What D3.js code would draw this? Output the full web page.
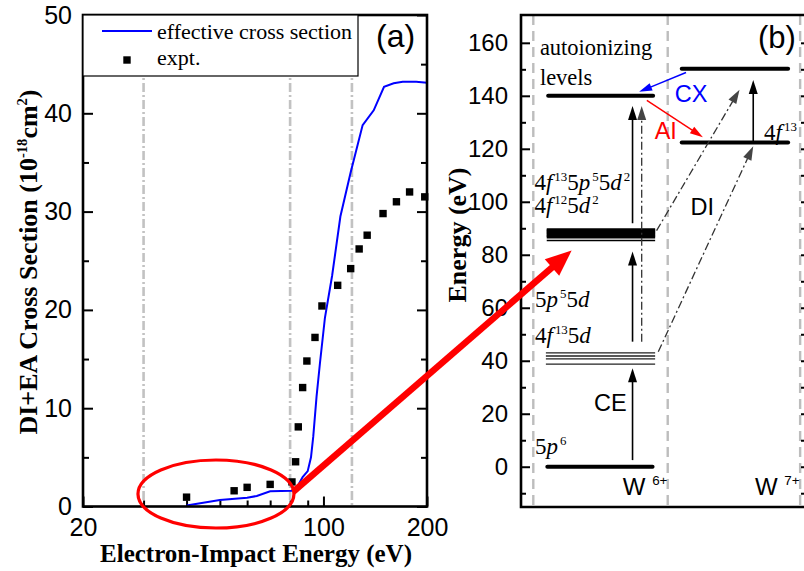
<!DOCTYPE html>
<html>
<head>
<meta charset="utf-8">
<script src="https://cdn.jsdelivr.net/npm/d3@7"></script>
<style>
body { margin: 0; background: #fff; }
svg { display: block; }
</style>
</head>
<body>
<svg id="chart" width="804" height="571"></svg>
<script>
// ---- panel (a): cross sections ----
const theoryEnergy = [40, 50, 60, 64, 70, 81, 83, 87, 90, 92, 93.4, 95.5, 97.7, 101, 106, 112, 120, 130, 140, 150, 160, 170, 186, 200];
const theoryCross  = [0.1, 0.65, 0.9, 1.07, 1.55, 1.6, 1.7, 3.0, 3.6, 5.0, 7.1, 11.2, 14.6, 19.2, 23.5, 29.5, 34.0, 38.8, 40.3, 42.7, 43.05, 43.2, 43.2, 43.1];
const exptEnergy = [40, 55, 60, 70, 81, 83, 84.5, 87, 89.5, 94.5, 99, 110, 120, 127, 134, 149, 163, 178, 197];
const exptCross  = [0.95, 1.6, 1.95, 2.25, 2.5, 4.55, 8.1, 12.1, 14.8, 17.2, 20.4, 22.5, 24.2, 26.2, 27.6, 29.8, 31.0, 32.0, 31.5];
const guideEnergy = [30, 80, 121];
const xTicksA = [20, 100, 200];
const xMinorA = [30, 40, 50, 60, 70, 80, 90];
const yTicksA = [0, 10, 20, 30, 40, 50];
const yMinorA = [5, 15, 25, 35, 45];

// ---- panel (b): level scheme (energies in eV) ----
const groundLevels = [0];
const ceLevels = [38.7, 40.7, 41.8, 43.0];
const bandLevels = [85.4, 86.6, 87.1, 87.6, 88.1, 88.6, 89.1, 89.5];
const autoLevels = [140];
const w7Levels = [122.4, 150.2];
const arrowFromE = [2.5, 47.2, 91.9, 47.2, 89.1, 43.4, 122.4, 148.8, 138.3];
const arrowToE   = [37.2, 81.2, 136.2, 136.2, 142.3, 121.0, 146.0, 141.5, 124.4];
const arrowKinds = ['solid', 'solid', 'solid', 'dashdot', 'dashdot', 'dashdot', 'solid', 'cx', 'ai'];
const yTicksB = [0, 20, 40, 60, 80, 100, 120, 140, 160];
const yMinorB = [-10, 10, 30, 50, 70, 90, 110, 130, 150];

const svg = d3.select('#chart');
const SANS = '"Liberation Sans", Arial, sans-serif';
const SERIF = '"Liberation Serif", "Times New Roman", serif';

// text with italic / superscript pieces
function richText(parent, x, y, parts, size, family, weight) {
    const t = parent.append('text')
        .attr('x', x).attr('y', y)
        .style('font-family', family)
        .style('font-size', size + 'px')
        .style('font-weight', weight || 'normal');
    let shift = 0;
    let prevItalic = false;
    parts.forEach(p => {
        const target = p.sup ? -size * 0.4 : 0;
        const s = t.append('tspan').attr('dy', target - shift).text(p.t);
        shift = target;
        if (p.sup) s.style('font-size', (size * 0.56) + 'px');
        if (p.sup && prevItalic) s.attr('dx', 2);
        if (!p.sup && !p.i && prevItalic) s.attr('dx', 1);
        if (p.i) s.style('font-style', 'italic');
        prevItalic = !!p.i;
    });
    return t;
}

// ================= panel (a) =================
const xA = d3.scaleLog().domain([20, 200]).range([83, 427]);
const yA = d3.scaleLinear().domain([0, 50]).range([506.5, 15]);
const gA = svg.append('g');

// gray guide lines
guideEnergy.forEach(e => {
    gA.append('line')
        .attr('x1', xA(e)).attr('x2', xA(e))
        .attr('y1', yA(50)).attr('y2', yA(0))
        .attr('stroke', '#c2c2c2')
        .attr('stroke-width', 2.6)
        .attr('stroke-dasharray', '9,3,2,3');
});

// axes (ticks inward)
function styleAxis(g) {
    g.select('.domain').remove();
    g.selectAll('.tick line').attr('stroke', '#000').attr('stroke-width', 2);
    g.selectAll('.tick text').style('font-family', SANS).style('font-size', '25px').attr('fill', '#000');
}
gA.append('g').attr('transform', 'translate(83,0)')
    .call(d3.axisLeft(yA).tickValues(yTicksA).tickSize(-10).tickPadding(11).tickFormat(d3.format('d')))
    .call(styleAxis);
gA.append('g').attr('transform', 'translate(83,0)')
    .call(d3.axisLeft(yA).tickValues(yMinorA).tickSize(-6).tickFormat(''))
    .call(styleAxis);
gA.append('g').attr('transform', 'translate(427,0)')
    .call(d3.axisRight(yA).tickValues(yTicksA).tickSize(-10).tickFormat(''))
    .call(styleAxis);
gA.append('g').attr('transform', 'translate(427,0)')
    .call(d3.axisRight(yA).tickValues(yMinorA).tickSize(-6).tickFormat(''))
    .call(styleAxis);
gA.append('g').attr('transform', 'translate(0,506.5)')
    .call(d3.axisBottom(xA).tickValues(xTicksA).tickSize(-10).tickPadding(12).tickFormat(d3.format('d')))
    .call(styleAxis);
gA.append('g').attr('transform', 'translate(0,506.5)')
    .call(d3.axisBottom(xA).tickValues(xMinorA).tickSize(-6).tickFormat(''))
    .call(styleAxis);

// theory curve
const lineA = d3.line()
    .x((d, i) => xA(theoryEnergy[i]))
    .y(d => yA(d));
gA.append('path')
    .datum(theoryCross)
    .attr('d', lineA)
    .attr('fill', 'none')
    .attr('stroke', '#0000ff')
    .attr('stroke-width', 2);

// experiment squares
gA.selectAll('.expt')
    .data(exptCross)
    .enter().append('rect')
    .attr('class', 'expt')
    .attr('x', (d, i) => xA(exptEnergy[i]) - 3.7)
    .attr('y', d => yA(d) - 3.7)
    .attr('width', 7.4).attr('height', 7.4)
    .attr('fill', '#000');

// frame
gA.append('rect')
    .attr('x', 83).attr('y', 15)
    .attr('width', 344).attr('height', 491.5)
    .attr('fill', 'none').attr('stroke', '#000').attr('stroke-width', 2.6);

// legend
const legA = gA.append('g');
legA.append('rect')
    .attr('x', 83).attr('y', 15).attr('width', 275).attr('height', 61)
    .attr('fill', '#fff').attr('stroke', '#000').attr('stroke-width', 1.2);
legA.append('line')
    .attr('x1', 102).attr('x2', 152).attr('y1', 31).attr('y2', 31)
    .attr('stroke', '#0000ff').attr('stroke-width', 2);
legA.append('text').attr('x', 157).attr('y', 39)
    .style('font-family', SERIF).style('font-size', '22px')
    .text('effective cross section');
legA.append('rect').attr('x', 123.3).attr('y', 56.3).attr('width', 7.4).attr('height', 7.4).attr('fill', '#000');
legA.append('text').attr('x', 157).attr('y', 65)
    .style('font-family', SERIF).style('font-size', '22px')
    .text('expt.');

gA.append('text').attr('x', 376).attr('y', 47)
    .style('font-family', SANS).style('font-size', '32px')
    .text('(a)');

// axis titles
svg.append('text')
    .attr('x', 256).attr('y', 562)
    .attr('text-anchor', 'middle')
    .style('font-family', SERIF).style('font-size', '25px').style('font-weight', 'bold')
    .text('Electron-Impact Energy (eV)');
richText(svg.append('g').attr('transform', 'translate(37,262) rotate(-90)'), 0, 0, [
    {t: 'DI+EA Cross Section (10'}, {t: '-18', sup: true}, {t: 'cm'}, {t: '2', sup: true}, {t: ')'}
], 26, SERIF, 'bold').attr('text-anchor', 'middle');

// ================= panel (b) =================
const xB = d3.scaleLinear().domain([0, 10]).range([521, 807]);
const yB = d3.scaleLinear().domain([-15.2, 170.5]).range([507, 15]);
const gB = svg.append('g');

// dashed column separators
[0.43, 5.13, 9.76].forEach(c => {
    gB.append('line')
        .attr('x1', xB(c)).attr('x2', xB(c))
        .attr('y1', yB(170.5)).attr('y2', yB(-15.2))
        .attr('stroke', '#bdbdbd').attr('stroke-width', 2.4)
        .attr('stroke-dasharray', '10,6');
});

function styleAxisB(g) {
    styleAxis(g);
    g.selectAll('.tick text').style('font-size', '24px');
}
gB.append('g').attr('transform', 'translate(521,0)')
    .call(d3.axisLeft(yB).tickValues(yTicksB).tickSize(-9).tickPadding(13))
    .call(styleAxisB);
gB.append('g').attr('transform', 'translate(521,0)')
    .call(d3.axisLeft(yB).tickValues(yMinorB).tickSize(-5).tickFormat(''))
    .call(styleAxisB);
gB.append('g').attr('transform', 'translate(807,0)')
    .call(d3.axisRight(yB).tickValues(yTicksB.concat(yMinorB)).tickSize(-6).tickFormat(''))
    .call(styleAxisB);

// frame
gB.append('path')
    .attr('d', `M807,15 H521 V507 H807`)
    .attr('fill', 'none').attr('stroke', '#000').attr('stroke-width', 2.6);

// levels
function drawLevels(energies, c0, c1, width, color, cap) {
    energies.forEach(e => {
        gB.append('line')
            .attr('x1', xB(c0)).attr('x2', xB(c1))
            .attr('y1', yB(e)).attr('y2', yB(e))
            .attr('stroke', color).attr('stroke-width', width)
            .attr('stroke-linecap', cap);
    });
}
drawLevels(groundLevels, 0.92, 4.6, 4, '#000', 'round');
drawLevels(ceLevels, 0.87, 4.69, 1.3, '#222', 'butt');
drawLevels(bandLevels.slice(0, 1), 0.9, 4.69, 1.5, '#000', 'butt');
drawLevels(bandLevels.slice(1), 0.9, 4.69, 2.6, '#000', 'butt');
drawLevels(autoLevels, 0.95, 4.62, 4, '#000', 'round');
drawLevels(w7Levels, 5.62, 9.34, 4, '#000', 'round');

// transition arrows
const arrowCols = [[3.9, 3.9], [3.9, 3.9], [3.9, 3.9], [4.22, 4.22], [4.74, 7.64], [4.8, 8.12], [8.12, 8.12], [5.77, 4.13], [4.4, 6.36]];
const arrowStyle = {
    solid:   {stroke: '#000', width: 1.6, dash: null, head: '#000', len: 14, half: 4.5},
    dashdot: {stroke: '#333', width: 1.3, dash: '8,3,2,3', head: '#444', len: 14, half: 4.5},
    cx:      {stroke: '#0000ff', width: 1.4, dash: null, head: '#0000ff', len: 13, half: 4},
    ai:      {stroke: '#ff0000', width: 1.4, dash: null, head: '#ff0000', len: 13, half: 4}
};
function arrow(parent, x0, y0, x1, y1, st) {
    const a = Math.atan2(y1 - y0, x1 - x0);
    const bx = x1 - st.len * Math.cos(a), by = y1 - st.len * Math.sin(a);
    parent.append('line')
        .attr('x1', x0).attr('y1', y0).attr('x2', bx + 2 * Math.cos(a)).attr('y2', by + 2 * Math.sin(a))
        .attr('stroke', st.stroke).attr('stroke-width', st.width)
        .attr('stroke-dasharray', st.dash);
    const px = -Math.sin(a) * st.half, py = Math.cos(a) * st.half;
    parent.append('path')
        .attr('d', `M${x1},${y1} L${bx + px},${by + py} L${bx - px},${by - py} Z`)
        .attr('fill', st.head);
}
arrowFromE.forEach((e0, i) => {
    arrow(gB, xB(arrowCols[i][0]), yB(e0), xB(arrowCols[i][1]), yB(arrowToE[i]), arrowStyle[arrowKinds[i]]);
});

// labels
const cfgSize = 23;
richText(gB, xB(0.66), yB(155.5), [{t: 'autoionizing'}], 22.5, SERIF);
richText(gB, xB(0.66), yB(144.2), [{t: 'levels'}], 22.5, SERIF);
richText(gB, xB(0.47), yB(104.5), [{t: '4'}, {t: 'f', i: true}, {t: '13', sup: true}, {t: '5'}, {t: 'p', i: true}, {t: '5', sup: true}, {t: '5'}, {t: 'd', i: true}, {t: '2', sup: true}], cfgSize, SERIF);
richText(gB, xB(0.47), yB(95.7), [{t: '4'}, {t: 'f', i: true}, {t: '12', sup: true}, {t: '5'}, {t: 'd', i: true}, {t: '2', sup: true}], cfgSize, SERIF);
richText(gB, xB(0.49), yB(60.4), [{t: '5'}, {t: 'p', i: true}, {t: '5', sup: true}, {t: '5'}, {t: 'd', i: true}], cfgSize, SERIF);
richText(gB, xB(0.49), yB(46.8), [{t: '4'}, {t: 'f', i: true}, {t: '13', sup: true}, {t: '5'}, {t: 'd', i: true}], cfgSize, SERIF);
richText(gB, xB(0.49), yB(4.7), [{t: '5'}, {t: 'p', i: true}, {t: '6', sup: true}], cfgSize, SERIF);
richText(gB, xB(8.5), yB(123.3), [{t: '4'}, {t: 'f', i: true}, {t: '13', sup: true}], cfgSize, SERIF);

function sansLabel(x, y, txt, color, anchor) {
    gB.append('text').attr('x', x).attr('y', y)
        .attr('text-anchor', anchor || 'start')
        .attr('fill', color)
        .style('font-family', SANS).style('font-size', '23.5px')
        .text(txt);
}
sansLabel(xB(5.38), yB(137.8), 'CX', '#0000ff');
sansLabel(xB(5.45), yB(123.8), 'AI', '#ff0000', 'end');
sansLabel(xB(5.93), yB(95), 'DI', '#000');
sansLabel(xB(2.55), yB(21.1), 'CE', '#000');

richText(gB, xB(3.56), yB(-10.7), [{t: 'W '}, {t: '6+', sup: true}], 24, SANS);
richText(gB, xB(8.18), yB(-10.7), [{t: 'W '}, {t: '7+', sup: true}], 24, SANS);

gB.append('text').attr('x', 758).attr('y', 48)
    .style('font-family', SANS).style('font-size', '31px')
    .text('(b)');

svg.append('text')
    .attr('transform', 'translate(466,235) rotate(-90)')
    .attr('text-anchor', 'middle')
    .style('font-family', SERIF).style('font-size', '26px').style('font-weight', 'bold')
    .text('Energy (eV)');

// ================= red annotation =================
const redG = svg.append('g');
redG.append('ellipse')
    .attr('cx', xA(48.7)).attr('cy', yA(1.27))
    .attr('rx', 78).attr('ry', 34)
    .attr('fill', 'none').attr('stroke', '#ff0000').attr('stroke-width', 3.2);
arrow(redG, xA(81.7), yA(1.5), xB(1.77), yB(81.6),
    {stroke: '#ff0000', width: 6.5, dash: null, head: '#ff0000', len: 26, half: 11});
</script>
</body>
</html>
